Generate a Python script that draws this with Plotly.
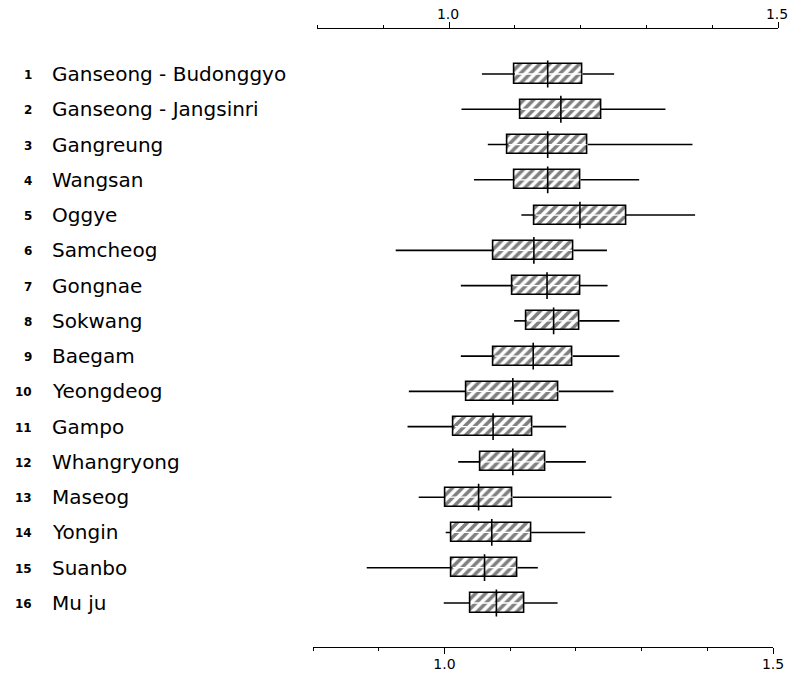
import plotly.graph_objects as go

numbers = ["1", "2", "3", "4", "5", "6", "7", "8", "9", "10", "11", "12", "13", "14", "15", "16"]
names = ["Ganseong - Budonggyo", "Ganseong - Jangsinri", "Gangreung", "Wangsan", "Oggye",
         "Samcheog", "Gongnae", "Sokwang", "Baegam", "Yeongdeog", "Gampo", "Whangryong",
         "Maseog", "Yongin", "Suanbo", "Mu ju"]
low    = [1.050, 1.019, 1.059, 1.038, 1.110, 0.919, 1.018, 1.099, 1.018, 0.939, 0.937, 1.014, 0.954, 0.995, 0.875, 0.992]
q1     = [1.100, 1.109, 1.089, 1.099, 1.130, 1.068, 1.097, 1.118, 1.068, 1.026, 1.007, 1.047, 0.994, 1.003, 1.004, 1.032]
median = [1.150, 1.170, 1.150, 1.150, 1.199, 1.129, 1.149, 1.159, 1.128, 1.097, 1.067, 1.097, 1.045, 1.065, 1.054, 1.072]
q3     = [1.203, 1.231, 1.211, 1.200, 1.269, 1.189, 1.199, 1.198, 1.188, 1.167, 1.127, 1.147, 1.097, 1.125, 1.104, 1.114]
high   = [1.251, 1.329, 1.370, 1.289, 1.374, 1.240, 1.241, 1.259, 1.259, 1.250, 1.178, 1.208, 1.247, 1.207, 1.135, 1.165]
major_ticks = [1.0, 1.5]
major_labels = ["1.0", "1.5"]

OFF = 8  # default page body margin around the figure
W, H = 796 - 2 * OFF, 678 - 2 * OFF

pos = list(range(1, len(names) + 1))

fig = go.Figure()

# boxes
fig.add_trace(go.Bar(
    y=pos, x=[b - a for a, b in zip(q1, q3)], base=q1, orientation="h", width=0.54,
    marker=dict(color="white", line=dict(color="black", width=1.6),
                pattern=dict(shape="/", fgcolor="black", bgcolor="white", size=7, solidity=0.5)),
    showlegend=False, hoverinfo="skip"))

# whiskers
wx, wy = [], []
for p, lo, a, b, hi in zip(pos, low, q1, q3, high):
    wx += [lo, a, None, b, hi, None]
    wy += [p, p, None, p, p, None]
fig.add_trace(go.Scatter(x=wx, y=wy, mode="lines", line=dict(color="black", width=1.6),
                         showlegend=False, hoverinfo="skip"))

# white gap through box centre
gx, gy = [], []
for p, a, b in zip(pos, q1, q3):
    gx += [a + 0.002, b - 0.002, None]
    gy += [p, p, None]
fig.add_trace(go.Scatter(x=gx, y=gy, mode="lines", line=dict(color="white", width=1.3),
                         showlegend=False, hoverinfo="skip"))

# medians
mx, my = [], []
for p, m in zip(pos, median):
    mx += [m, m, None]
    my += [p - 0.38, p + 0.38, None]
fig.add_trace(go.Scatter(x=mx, y=my, mode="lines", line=dict(color="black", width=1.6),
                         showlegend=False, hoverinfo="skip"))

# dummy trace for bottom axis
fig.add_trace(go.Scatter(x=[None], y=[None], xaxis="x2", yaxis="y", showlegend=False, hoverinfo="skip"))

for p, n, t in zip(pos, numbers, names):
    fig.add_annotation(x=(34 - OFF) / W, xref="paper", y=p, yref="y", text=n, showarrow=False,
                       xanchor="right", yanchor="middle", yshift=-1,
                       font=dict(family="DejaVu Sans", size=12, color="black", weight="bold"))
    fig.add_annotation(x=(50 - OFF) / W, xref="paper", y=p, yref="y", text=t, showarrow=False,
                       xanchor="left", yanchor="middle", yshift=0,
                       font=dict(family="DejaVu Sans", size=20, color="black"))

axis_common = dict(range=[0.8, 1.5], showgrid=False, zeroline=False, showline=True, automargin=False,
                   linecolor="black", linewidth=1.3, ticks="outside", ticklen=6, tickwidth=1.3,
                   tickcolor="black", tickvals=major_ticks, ticktext=major_labels,
                   ticklabeloverflow="allow",
                   tickfont=dict(family="DejaVu Sans", size=14, color="black"),
                   minor=dict(tick0=0.8, dtick=0.1, ticks="outside", ticklen=3, tickwidth=1.3,
                              tickcolor="black"))

fig.update_layout(
    width=W, height=H,
    margin=dict(l=0, r=0, t=29 - OFF, b=H - (647 - OFF), autoexpand=False),
    paper_bgcolor="white", plot_bgcolor="rgba(0,0,0,0)",
    bargap=0,
    xaxis=dict(side="top", anchor="y", domain=[(317.4 - OFF) / W, (778 - OFF) / W],
               ticklabelstandoff=-3, ticklabelshift=-1, **axis_common),
    xaxis2=dict(side="bottom", anchor="y", domain=[(313 - OFF) / W, (773 - OFF) / W],
                ticklabelstandoff=-2, **axis_common),
    yaxis=dict(range=[17.248, -0.276], visible=False, fixedrange=True, automargin=False),
)

fig.write_html("out.html")
